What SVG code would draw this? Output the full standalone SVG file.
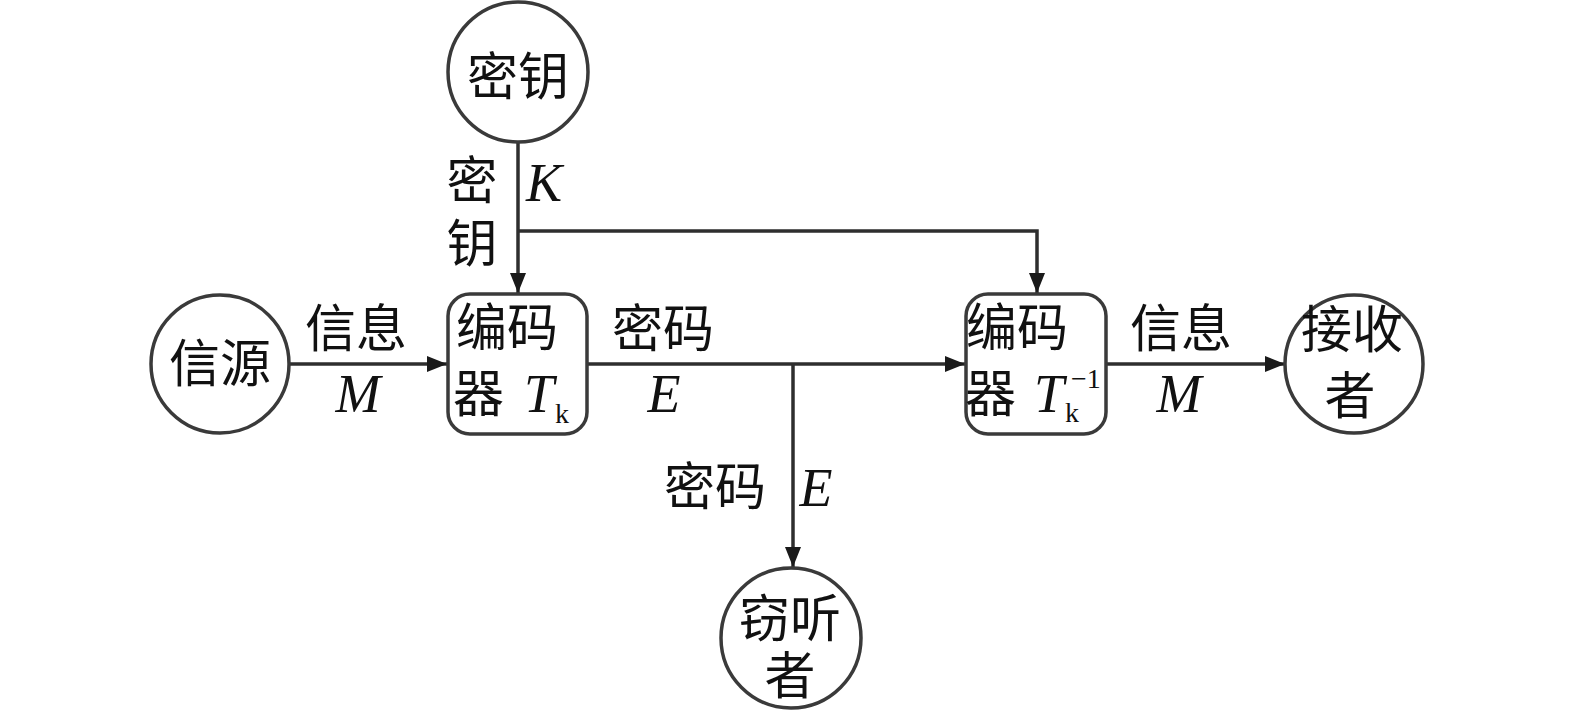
<svg xmlns="http://www.w3.org/2000/svg" width="1575" height="713" viewBox="0 0 1575 713">
<style>
.nd{fill:#fff;stroke:#3a3a3a;stroke-width:3.5}
.cn{fill:none;stroke:#2e2e2e;stroke-width:3.5}
.cj{font-family:"Noto Sans CJK SC",sans-serif;font-size:51px;fill:#111}
.it{font-family:"Liberation Serif",serif;font-style:italic;font-size:54px;fill:#111}
.sb{font-family:"Liberation Serif",serif;font-style:normal;font-size:28px;fill:#111}
</style>
<defs>
<marker id="ar" markerUnits="userSpaceOnUse" markerWidth="22" markerHeight="18" refX="20" refY="8" orient="auto">
<path d="M0,0 L20,8 L0,16 z" fill="#1a1a1a"/>
</marker>
</defs>
<rect width="1575" height="713" fill="#fff"/>
<g id="connectors">
<path class="cn" d="M518 142 V293" marker-end="url(#ar)"/>
<path class="cn" d="M518 231 H1037 V293" marker-end="url(#ar)"/>
<path class="cn" d="M289 364 H447" marker-end="url(#ar)"/>
<path class="cn" d="M587 364 H965" marker-end="url(#ar)"/>
<path class="cn" d="M793 364 V567" marker-end="url(#ar)"/>
<path class="cn" d="M1106 364 H1285" marker-end="url(#ar)"/>
</g>
<g id="key">
<circle class="nd" cx="518" cy="72" r="70"/>
<text class="cj" x="518" y="95" text-anchor="middle">密钥</text>
</g>
<g id="source">
<circle class="nd" cx="220" cy="364" r="69"/>
<text class="cj" x="220" y="382" text-anchor="middle">信源</text>
</g>
<g id="encoder1">
<rect class="nd" x="448" y="294" width="139" height="140" rx="22"/>
<text class="cj" x="456" y="346">编码<tspan x="453" y="412">器</tspan><tspan class="it" x="524" y="412">T</tspan><tspan class="sb" x="555" y="423">k</tspan></text>
</g>
<g id="decoder">
<rect class="nd" x="966" y="294" width="140" height="140" rx="22"/>
<text class="cj" x="966" y="346">编码<tspan x="965" y="412">器</tspan><tspan class="it" x="1034" y="412">T</tspan><tspan class="sb" x="1065" y="422">k</tspan><tspan class="sb" x="1071" y="388">−1</tspan></text>
</g>
<g id="receiver">
<circle class="nd" cx="1354" cy="364" r="69"/>
<text class="cj" x="1352" y="348" text-anchor="middle">接收<tspan x="1350" y="414">者</tspan></text>
</g>
<g id="eavesdropper">
<circle class="nd" cx="791" cy="638" r="70"/>
<text class="cj" x="790" y="637" text-anchor="middle">窃听<tspan x="790" y="694">者</tspan></text>
</g>
<g id="labels">
<text class="cj" x="472" y="199" text-anchor="middle">密<tspan x="472" y="262">钥</tspan></text>
<text class="it" x="526" y="201">K</text>
<text class="cj" x="305" y="347">信息</text>
<text class="it" x="358" y="412" text-anchor="middle">M</text>
<text class="cj" x="612" y="347">密码</text>
<text class="it" x="664" y="412" text-anchor="middle">E</text>
<text class="cj" x="664" y="505">密码</text>
<text class="it" x="816" y="506" text-anchor="middle">E</text>
<text class="cj" x="1130" y="347">信息</text>
<text class="it" x="1179" y="412" text-anchor="middle">M</text>
</g>
</svg>
